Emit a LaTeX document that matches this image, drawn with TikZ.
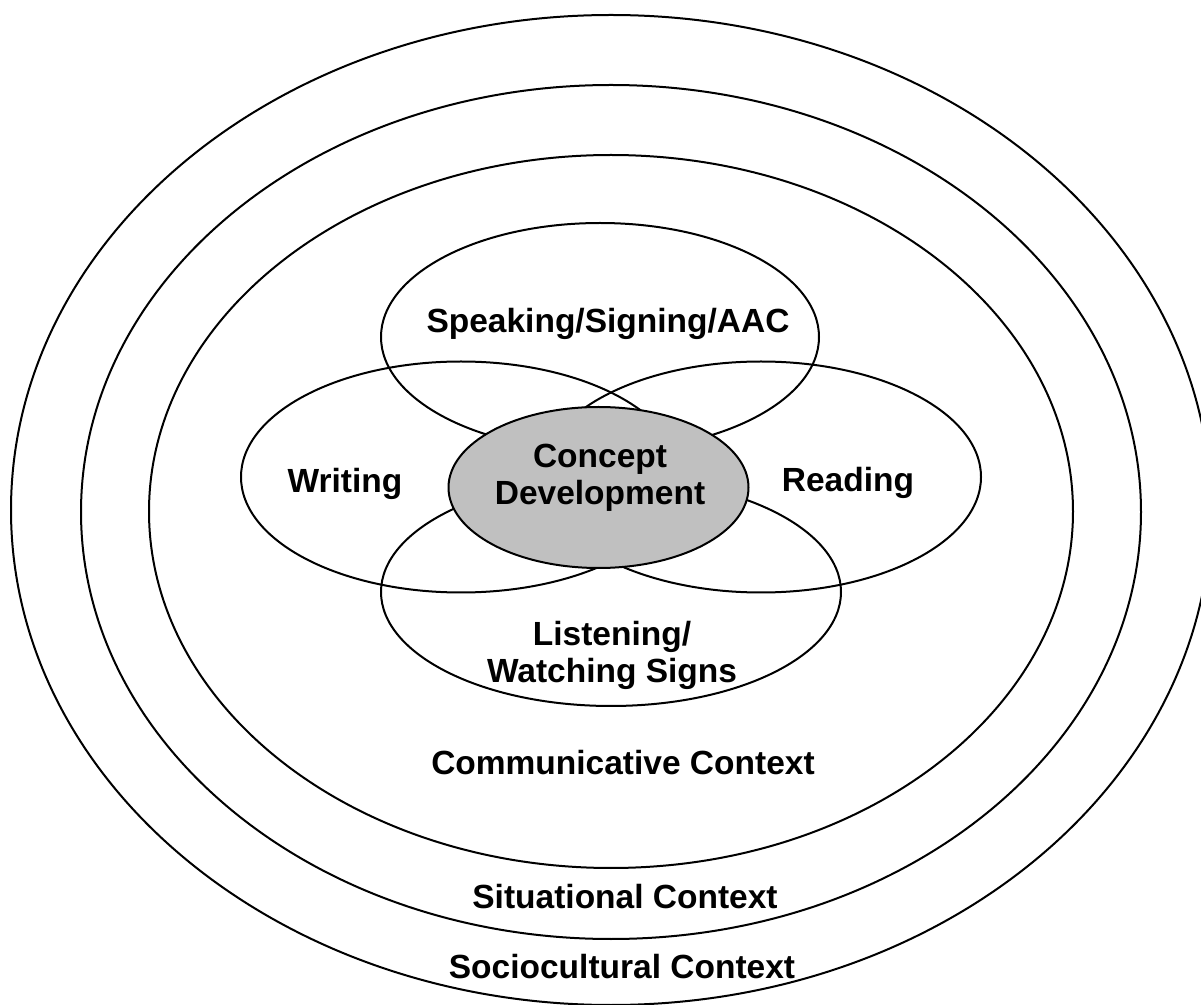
\documentclass[tikz,border=0pt]{standalone}
\usepackage{fontspec}
\setmainfont{Liberation Sans}
\usetikzlibrary{shapes.geometric}
\definecolor{conceptgray}{HTML}{C0C0C0}
\tikzset{
  ring/.style={ellipse, draw=black, line width=1pt, inner sep=0pt, outer sep=0pt},
  skill/.style={ring},
  core/.style={ring, fill=conceptgray},
  lbl/.style={font=\fontsize{16.75}{18.75}\selectfont\bfseries, inner sep=0pt, align=center}
}
\begin{document}
\begin{tikzpicture}[x=0.5pt, y=-0.5pt]
  \useasboundingbox (0,0) rectangle (1201,1005);
  \clip (0,0) rectangle (1201,1005);
  \fill[white] (0,0) rectangle (1201,1005);

  % context rings
  \node[ring, minimum width=600pt, minimum height=495pt] (socio) at (611,510) {};
  \node[ring, minimum width=530pt, minimum height=427pt] (situ) at (611,512) {};
  \node[ring, minimum width=462pt, minimum height=356.5pt] (comm) at (611,511.5) {};

  % language skill ellipses
  \node[skill, minimum width=219pt, minimum height=114pt] (speak) at (600,337) {};
  \node[skill, minimum width=220pt, minimum height=115.5pt] (write) at (461,477) {};
  \node[skill, minimum width=220pt, minimum height=115.5pt] (read) at (761,477) {};
  \node[skill, minimum width=230pt, minimum height=114pt] (listen) at (611,592) {};

  % central ellipse
  \node[core, minimum width=150pt, minimum height=80.5pt] (concept) at (598.5,487.5) {};

  % labels
  \node[lbl, anchor=base] (tspeak) at (608,333) {Speaking/Signing/AAC};
  \node[lbl, anchor=base] (twrite) at (345,493) {Writing};
  \node[lbl, anchor=base] (tread) at (848,492) {Reading};
  \node[lbl, anchor=north] (tconcept) at (600,443.5) {Concept\\Development};
  \node[lbl, anchor=north] (tlisten) at (612,620.5) {Listening/\\Watching Signs};
  \node[lbl, anchor=base] (tcomm) at (623,775) {Communicative Context};
  \node[lbl, anchor=base] (tsitu) at (625,908) {Situational Context};
  \node[lbl, anchor=base] (tsocio) at (622,978) {Sociocultural Context};
\end{tikzpicture}
\end{document}
